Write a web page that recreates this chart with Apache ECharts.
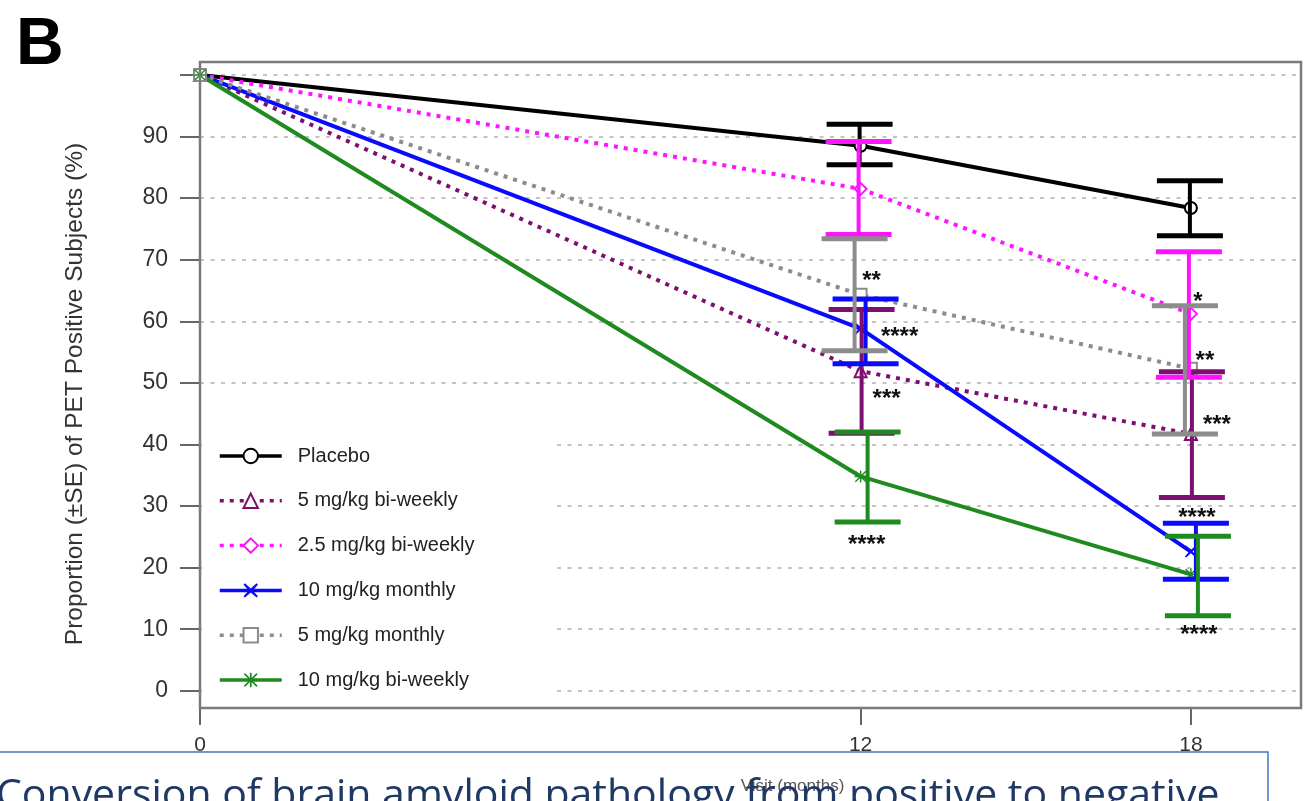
<!DOCTYPE html>
<html>
<head>
<meta charset="utf-8">
<script src="https://cdn.jsdelivr.net/npm/echarts@6/dist/echarts.min.js"></script>
<style>
  html, body { margin: 0; padding: 0; background: #fff; }
  #chart { width: 1307px; height: 801px; }
</style>
</head>
<body>
<div id="chart"></div>
<script>
// Visits (months) at which PET status was assessed
const months = [0, 12, 18];

const groupNames = [
  'Placebo',
  '5 mg/kg bi-weekly',
  '2.5 mg/kg bi-weekly',
  '10 mg/kg monthly',
  '5 mg/kg monthly',
  '10 mg/kg bi-weekly'
];

// Proportion of PET-positive subjects (%) at each visit
const placebo = [100, 88.5, 78.4];
const biweekly5 = [100, 51.9, 41.7];
const biweekly25 = [100, 81.5, 61.2];
const monthly10 = [100, 58.8, 22.6];
const monthly5 = [100, 64.3, 52.3];
const biweekly10 = [100, 34.8, 18.9];

// ±SE bounds [lower, upper] at months 12 and 18
const placeboSE = [[85.4, 92.0], [73.9, 82.8]];
const biweekly5SE = [[41.8, 61.9], [31.4, 51.8]];
const biweekly25SE = [[74.1, 89.2], [50.9, 71.3]];
const monthly10SE = [[53.1, 63.6], [18.1, 27.2]];
const monthly5SE = [[55.2, 73.4], [41.7, 62.5]];
const biweekly10SE = [[27.4, 42.0], [12.2, 25.1]];

// Axis ticks
const yTickValues = [0, 10, 20, 30, 40, 50, 60, 70, 80, 90, 100];
const yLabelValues = [0, 10, 20, 30, 40, 50, 60, 70, 80, 90];
const xTickValues = [0, 12, 18];

// Significance marks versus placebo: visit, level on the y scale, text
const sigMonths = [12, 12, 12, 12, 18, 18, 18, 18, 18];
const sigLevels = [67.5, 58.3, 48.3, 24.6, 64.1, 54.4, 44.0, 29.0, 9.9];
const sigTexts = ['**', '****', '***', '****', '*', '**', '***', '****', '****'];

// ---- styling ----
const colors = ['#000000', '#7d0f72', '#ff14ff', '#0a0aff', '#8c8c8c', '#1f8a1f'];
const dashes = ['solid', [4, 6], [4, 6], 'solid', [4, 6], 'solid'];
const crossPath = 'path://M1,0 L5,3.6 L9,0 L10,1 L6.4,5 L10,9 L9,10 L5,6.4 L1,10 L0,9 L3.6,5 L0,1 Z';
const starPath = 'path://M4.4,0 H5.6 V10 H4.4 Z M0,4.4 H10 V5.6 H0 Z M1,0.2 L9.8,9 L9,9.8 L0.2,1 Z M9,0.2 L9.8,1 L1,9.8 L0.2,9 Z';
const symbols = ['emptyCircle', 'emptyTriangle', 'emptyDiamond', crossPath, 'emptyRect', starPath];
const barDodge = [-1, 1, -2, 5, -6, 7];      // px, separates overlapping error bars
const sigShift = [11, 39, 26, 6, 7, 14, 26, 6, 8]; // px, label offsets to the right
const capHalf = 33;
const font = '"Liberation Sans", Arial, sans-serif';

// plot area box (px)
const plotLeft = 200, plotTop = 62, plotRight = 6, plotBottom = 93;
const W = 1307, H = 801;

const values = [placebo, biweekly5, biweekly25, monthly10, monthly5, biweekly10];
const bounds = [placeboSE, biweekly5SE, biweekly25SE, monthly10SE, monthly5SE, biweekly10SE];

const lineSeries = groupNames.map((name, gi) => ({
  name: name,
  type: 'line',
  data: months.map((m, k) => [m, values[gi][k]]),
  symbol: symbols[gi],
  symbolSize: 12,
  showSymbol: true,
  z: 2,
  itemStyle: { color: colors[gi], borderWidth: 1.5 },
  lineStyle: { color: colors[gi], width: 4, type: dashes[gi] },
  emphasis: { disabled: true }
}));

const errData = [];
bounds.forEach((b, gi) => b.forEach((pair, k) => errData.push([months[k + 1], pair[0], pair[1], gi])));

const errorSeries = {
  name: 'SE',
  type: 'custom',
  z: 3,
  data: errData,
  encode: { x: 0, y: [1, 2] },
  renderItem: function (params, api) {
    const gi = api.value(3);
    const lo = api.coord([api.value(0), api.value(1)]);
    const hi = api.coord([api.value(0), api.value(2)]);
    const cx = lo[0] + barDodge[gi];
    const c = colors[gi];
    return {
      type: 'group',
      children: [
        { type: 'line', shape: { x1: cx, y1: hi[1], x2: cx, y2: lo[1] }, style: { stroke: c, lineWidth: 4 } },
        { type: 'line', shape: { x1: cx - capHalf, y1: hi[1], x2: cx + capHalf, y2: hi[1] }, style: { stroke: c, lineWidth: 5 } },
        { type: 'line', shape: { x1: cx - capHalf, y1: lo[1], x2: cx + capHalf, y2: lo[1] }, style: { stroke: c, lineWidth: 5 } }
      ]
    };
  }
};

const sigSeries = {
  name: 'sig',
  type: 'custom',
  z: 4,
  data: sigMonths.map((m, i) => [m, sigLevels[i], i]),
  encode: { x: 0, y: 1 },
  renderItem: function (params, api) {
    const i = api.value(2);
    const p = api.coord([api.value(0), api.value(1)]);
    return {
      type: 'text',
      x: p[0] + sigShift[i],
      y: p[1] + 6,
      style: {
        text: sigTexts[i],
        fill: '#111',
        font: 'bold 24px ' + font,
        align: 'center',
        verticalAlign: 'middle'
      }
    };
  }
};

const chart = echarts.init(document.getElementById('chart'), null, { renderer: 'canvas' });

chart.setOption({
  animation: false,
  backgroundColor: '#ffffff',
  grid: {
    left: plotLeft, top: plotTop, right: plotRight, bottom: plotBottom,
    show: false
  },
  xAxis: {
    type: 'value',
    position: 'bottom',
    min: 0, max: 20,
    axisLine: { show: false, onZero: false },
    axisTick: { show: true, customValues: xTickValues, length: 17, lineStyle: { color: '#666', width: 2 } },
    axisLabel: { customValues: xTickValues, fontSize: 21, color: '#333', fontFamily: font, margin: 27 },
    splitLine: { show: false },
    name: 'Visit (months)',
    nameLocation: 'middle',
    nameGap: 70,
    nameTextStyle: { fontSize: 17, color: '#555', fontFamily: font, padding: [0, 0, 0, 84] }
  },
  yAxis: {
    type: 'value',
    min: -2.8, max: 102.1,
    axisLine: { show: false, onZero: false },
    axisTick: { show: true, customValues: yTickValues, length: 20, lineStyle: { color: '#666', width: 2 } },
    axisLabel: { customValues: yLabelValues, fontSize: 23, color: '#333', fontFamily: font, margin: 32 },
    splitLine: { show: true, lineStyle: { color: '#c4c4c4', width: 2, type: [4, 6.5] } },
    name: 'Proportion (\u00B1SE) of PET Positive Subjects (%)',
    nameLocation: 'middle',
    nameGap: 112,
    nameTextStyle: { fontSize: 24.5, color: '#333', fontFamily: font, padding: [0, 18, 0, 0] }
  },
  legend: {
    data: groupNames,
    orient: 'vertical',
    left: 202,
    top: 434,
    padding: [12, 82, 18, 16],
    backgroundColor: '#ffffff',
    itemWidth: 62,
    itemHeight: 18,
    itemGap: 24.8,
    selectedMode: false,
    lineStyle: { width: 3.5 },
    textStyle: { fontSize: 20, color: '#222', fontFamily: font, padding: [0, 0, 0, 11] }
  },
  graphic: [
    {
      // frame around the plotting region, kept above the legend box
      type: 'rect', z: 50, silent: true,
      shape: { x: plotLeft, y: plotTop, width: W - plotLeft - plotRight, height: H - plotTop - plotBottom },
      style: { fill: 'none', stroke: '#7a7a7a', lineWidth: 2.5 }
    },
    {
      type: 'text', left: 16, top: 13,
      style: { text: 'B', font: 'bold 66px ' + font, fill: '#000' }
    },
    {
      type: 'rect', z: 60,
      shape: { x: -10, y: 752, width: 1278, height: 90 },
      style: { fill: 'none', stroke: '#4472C4', lineWidth: 1.5 }
    },
    {
      type: 'text', z: 61, x: -4, y: 796,
      style: {
        text: 'Conversion of brain amyloid pathology from positive to negative',
        font: '41px "Open Sans", "Noto Sans", sans-serif',
        fill: '#1F3864',
        verticalAlign: 'middle'
      }
    }
  ],
  series: lineSeries.concat([errorSeries, sigSeries])
});
</script>
</body>
</html>
